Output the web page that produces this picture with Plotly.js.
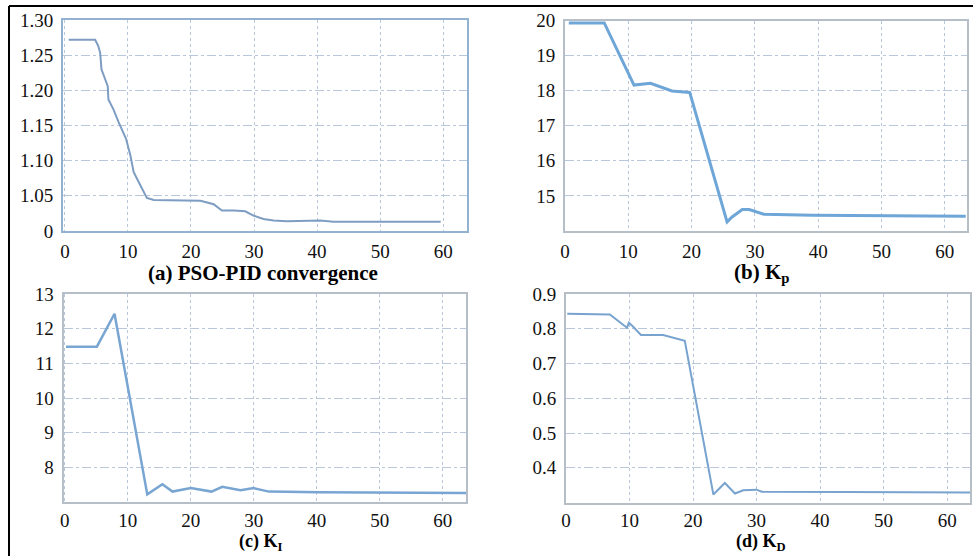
<!DOCTYPE html>
<html>
<head>
<meta charset="utf-8">
<script src="https://cdn.plot.ly/plotly-3.0.1.min.js"></script>
<style>html,body{margin:0;padding:0;background:#fff;}#chart{width:973px;height:556px;}</style>
</head>
<body>
<div id="chart"></div>
<script>
// (a) PSO-PID convergence (fitness vs iteration)
const convX = [0.6, 4.8, 5.3, 5.6, 5.8, 6.2, 6.8, 6.9, 7.7, 8.5, 9.3, 9.7, 10.4, 10.9, 11.4, 12.2, 13.0, 14.1, 19.4, 21.5, 23.6, 24.9, 26.8, 28.6, 29.9, 31.5, 33.1, 35.2, 40.5, 42.6, 59.6];
const convY = [1.272, 1.272, 1.263, 1.253, 1.230, 1.220, 1.206, 1.187, 1.173, 1.155, 1.140, 1.131, 1.107, 1.084, 1.075, 1.061, 1.047, 1.044, 1.044, 1.043, 1.038, 1.029, 1.029, 1.028, 1.022, 1.017, 1.015, 1.014, 1.015, 1.013, 1.013];
// (b) Kp
const kpX = [0.6, 6.2, 10.9, 13.5, 16.9, 19.3, 19.7, 25.6, 26.4, 28.0, 29.1, 31.4, 39.1, 63.3];
const kpY = [19.93, 19.93, 18.16, 18.21, 17.99, 17.97, 17.95, 14.26, 14.40, 14.61, 14.61, 14.48, 14.45, 14.42];
// (c) KI
const kiX = [0.2, 5.1, 7.9, 13.1, 15.5, 17.1, 20.0, 23.3, 25.0, 27.9, 30.0, 32.4, 40.4, 63.7];
const kiY = [11.48, 11.48, 12.43, 7.22, 7.51, 7.30, 7.40, 7.30, 7.44, 7.34, 7.40, 7.30, 7.28, 7.26];
// (d) KD
const kdX = [0.2, 6.9, 9.6, 9.9, 10.5, 11.8, 15.3, 18.7, 23.2, 25.0, 26.6, 27.9, 30.0, 30.8, 44.0, 63.6];
const kdY = [0.843, 0.841, 0.803, 0.817, 0.807, 0.782, 0.782, 0.765, 0.323, 0.356, 0.326, 0.335, 0.337, 0.331, 0.330, 0.329];

const xTicks = [0, 10, 20, 30, 40, 50, 60];
const convTickVals = [1.00, 1.05, 1.10, 1.15, 1.20, 1.25, 1.30];
const convTickText = ['0', '1.05', '1.10', '1.15', '1.20', '1.25', '1.30'];
const kpTicks = [15, 16, 17, 18, 19, 20];
const kiTicks = [8, 9, 10, 11, 12, 13];
const kdTicks = [0.4, 0.5, 0.6, 0.7, 0.8, 0.9];
const kdTickText = ['0.4', '0.5', '0.6', '0.7', '0.8', '0.9'];

const captions = ['<b>(a) PSO-PID convergence</b>', '<b>(b) K<sub>p</sub></b>', '<b>(c) K<sub>I</sub></b>', '<b>(d) K<sub>D</sub></b>'];

const W = 973, H = 556;
const px = v => v / W;
const py = v => 1 - v / H;
const SERIF = 'Liberation Serif';

const gridCol = '#b8c8da';

function xAx(d0, d1, r, anchor, lc, so) {
  return {domain: [px(d0), px(d1)], range: r, anchor: anchor, tickmode: 'array', tickvals: xTicks.slice(), ticks: '',
    showgrid: true, gridcolor: gridCol, griddash: 'dot', gridwidth: 1, zeroline: false,
    showline: true, mirror: true, linecolor: lc, linewidth: 2,
    tickfont: {family: SERIF, size: 19, color: '#111'}, ticklabelstandoff: so};
}
function yAx(d0, d1, r, anchor, lc, tv, tt) {
  const o = {domain: [py(d1), py(d0)], range: r, anchor: anchor, tickmode: 'array', tickvals: tv.slice(), ticks: '',
    showgrid: true, gridcolor: gridCol, griddash: 'dashdot', gridwidth: 1, zeroline: false,
    showline: true, mirror: true, linecolor: lc, linewidth: 2,
    tickfont: {family: SERIF, size: 19, color: '#111'}, ticklabelstandoff: 4};
  if (tt) o.ticktext = tt.slice();
  return o;
}

const traces = [
  {x: convX, y: convY, xaxis: 'x', yaxis: 'y', mode: 'lines', line: {color: '#7d9dc2', width: 2}},
  {x: kpX, y: kpY, xaxis: 'x2', yaxis: 'y2', mode: 'lines', line: {color: '#6ea6d8', width: 3}},
  {x: kiX, y: kiY, xaxis: 'x3', yaxis: 'y3', mode: 'lines', line: {color: '#78a5d2', width: 2.5}},
  {x: kdX, y: kdY, xaxis: 'x4', yaxis: 'y4', mode: 'lines', line: {color: '#78a3cf', width: 2}}
];

const frameA = '#93b1d0', frameB = '#b6bec8';
const layout = {
  width: W, height: H, margin: {l: 0, r: 0, t: 0, b: 0},
  font: {family: SERIF, size: 19, color: '#111'},
  paper_bgcolor: '#fff', plot_bgcolor: '#fff', showlegend: false,
  xaxis: xAx(63, 466.5, [-0.3, 63.7], 'y', frameA, 2),
  yaxis: yAx(20, 231, [1.00, 1.30], 'x', frameA, convTickVals, convTickText),
  xaxis2: xAx(565, 967, [0, 63.5], 'y2', frameB, 2),
  yaxis2: yAx(20.5, 231, [14, 20], 'x2', frameB, kpTicks),
  xaxis3: xAx(63.5, 466, [-0.2, 63.7], 'y3', frameB, 0),
  yaxis3: yAx(294, 502, [7, 13], 'x3', frameB, kiTicks),
  xaxis4: xAx(566, 970, [0, 63.6], 'y4', frameB, 0),
  yaxis4: yAx(294, 502.5, [0.3, 0.9], 'x4', frameB, kdTicks, kdTickText),
  annotations: [
    {text: captions[0], x: px(263), y: py(273), yanchor: 'middle', size: 21},
    {text: captions[1], x: px(761), y: py(273), yanchor: 'middle', size: 21},
    {text: captions[2], x: px(260), y: py(555.5), yanchor: 'bottom', size: 18},
    {text: captions[3], x: px(761), y: py(555.5), yanchor: 'bottom', size: 18}
  ].map(a => {
    const s = a.size; delete a.size;
    return Object.assign(a, {xref: 'paper', yref: 'paper', showarrow: false, xanchor: 'center',
      font: {family: SERIF, size: s, color: '#000'}});
  }),
  shapes: [
    {type: 'line', xref: 'paper', yref: 'paper', x0: px(9), x1: px(9), y0: 0, y1: py(6), line: {color: '#000', width: 2}},
    {type: 'line', xref: 'paper', yref: 'paper', x0: px(9), x1: 1, y0: py(6), y1: py(6), line: {color: '#000', width: 2}}
  ]
};

Plotly.newPlot('chart', traces, layout, {displayModeBar: false, staticPlot: true});
</script>
</body>
</html>
